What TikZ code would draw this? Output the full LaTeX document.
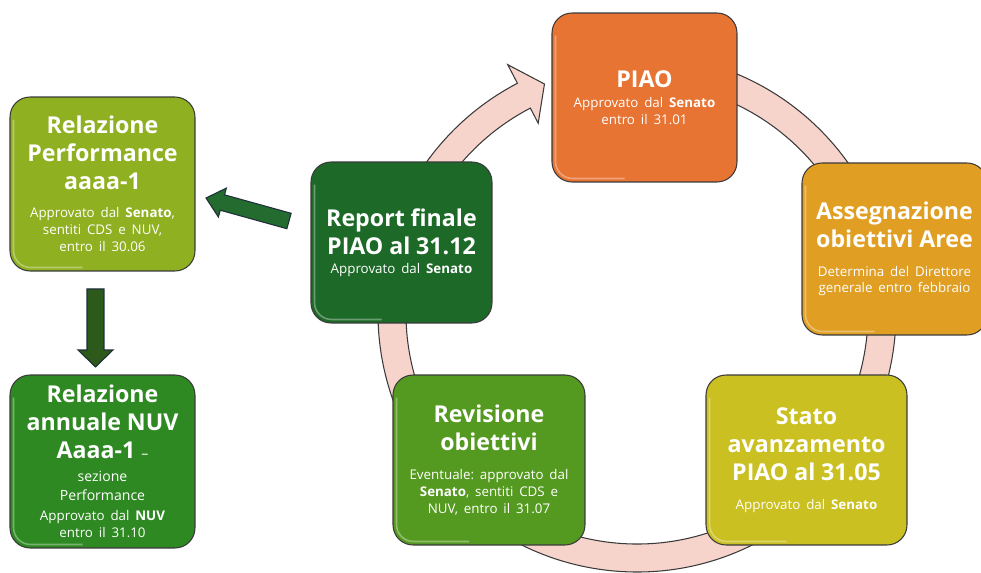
\documentclass[tikz,border=0pt]{standalone}
\usepackage{fontspec}
\setmainfont[WordSpace=0.82]{Open Sans}
\usetikzlibrary{positioning,calc}
\frenchspacing

\definecolor{edgegray}{HTML}{3A3A3A}
\definecolor{ringpink}{HTML}{F6D4CC}
\definecolor{perfgreen}{HTML}{8FB021}
\definecolor{nuvgreen}{HTML}{2E8922}
\definecolor{reportgreen}{HTML}{1D6928}
\definecolor{piaoorange}{HTML}{E87434}
\definecolor{areegold}{HTML}{E09E22}
\definecolor{statoyellow}{HTML}{CBC021}
\definecolor{revgreen}{HTML}{559A20}
\definecolor{leftarr}{HTML}{236B2E}
\definecolor{downarr}{HTML}{2D5A1B}
\definecolor{arrline}{HTML}{1E2E3A}

\newcommand\ttl{\fontsize{13.2}{15.9}\selectfont\bfseries}
\newcommand\mdl{\fontsize{8}{10.8}\selectfont\mdseries}
\newcommand\sml{\fontsize{7.6}{9.6}\selectfont\mdseries}

\begin{document}
\begin{tikzpicture}[x=0.02cm,y=0.02cm,
	stage/.style={draw=edgegray, line width=0.6pt, rounded corners=0.4cm, text=white, align=center, inner sep=0pt,
		path picture={\draw[white, opacity=0.35, line width=0.9pt, rounded corners=0.34cm]
			($(path picture bounding box.north west)+(0.07cm,-0.45cm)$) |- ($(path picture bounding box.south)+(-0.4cm,0.07cm)$);}},
	ring/.style={fill=ringpink, draw=edgegray, line width=0.6pt},
	blockarr/.style={fill=#1, draw=arrline, line width=0.6pt}]
	\useasboundingbox (0,0) rectangle (981,572);
	% ring arrow of the yearly cycle
	\coordinate (hub) at (637,259);
	\draw[ring] ($(hub)+(85:259)$) arc[start angle=85, end angle=-242.5, radius=259]
		-- ($(hub)+(-242.5:280)$) -- ($(hub)+(-248:247)$) -- ($(hub)+(-242.5:214)$)
		-- ($(hub)+(-242.5:231)$) arc[start angle=-242.5, end angle=85, radius=231] -- cycle;
	% stages
	\node[stage, fill=piaoorange, minimum width=3.7cm, minimum height=3.38cm, text width=3.7cm] (piao) at (644.5,474.5)
		{\ttl PIAO\par\vspace{1.6pt}\sml Approvato dal \textbf{Senato}\\ entro il 31.01\par};
	\node[stage, fill=areegold, minimum width=3.7cm, minimum height=3.44cm, text width=3.7cm] (aree) at (894.5,323)
		{\ttl Assegnazione\\ obiettivi Aree\par\vspace{6.7pt}\sml Determina del Direttore\\ generale entro febbraio\par};
	\node[stage, fill=statoyellow, minimum width=4.02cm, minimum height=3.4cm, text width=4.02cm] (stato) at (806.5,112)
		{\ttl Stato\\ avanzamento\\ PIAO al 31.05\par\vspace{7pt}\sml Approvato dal \textbf{Senato}\par};
	\node[stage, fill=revgreen, minimum width=3.84cm, minimum height=3.4cm, text width=3.84cm] (revis) at (489,112)
		{\ttl Revisione\\ obiettivi\par\vspace{7pt}\sml Eventuale: approvato dal\\ \textbf{Senato}, sentiti CDS e\\ NUV, entro il 31.07\par};
	\node[stage, fill=reportgreen, minimum width=3.62cm, minimum height=3.22cm, text width=3.62cm] (report) at (401.5,329.5)
		{\ttl Report finale\\ PIAO al 31.12\par\vspace{1pt}\sml Approvato dal \textbf{Senato}\par};
	% annual reports
	\node[stage, fill=perfgreen, minimum width=3.7cm, minimum height=3.48cm, text width=3.7cm] (relperf) at (102.5,388)
		{\ttl Relazione\\ Performance\\ aaaa-1\par\vspace{6.5pt}\sml Approvato dal \textbf{Senato},\\ sentiti CDS e NUV,\\ entro il 30.06\par};
	\node[stage, fill=nuvgreen, minimum width=3.7cm, minimum height=3.46cm, text width=3.7cm] (relnuv) at (102.5,110.5)
		{\ttl Relazione\\ annuale NUV\\ Aaaa-1 {\mdl --}\par\vspace{2.1pt}\mdl sezione\\ Performance\par\vspace{2pt}\sml Approvato dal \textbf{NUV}\\ entro il 31.10\par};
	% block arrows
	\coordinate (lt) at (289,351);
	\coordinate (lh) at (206,374);
	\coordinate (lb) at ($(lh)!0.34cm!(lt)$);
	\draw[blockarr=leftarr] ($(lt)!0.16cm!90:(lh)$) -- ($(lb)!0.16cm!90:(lh)$) -- ($(lb)!0.3cm!90:(lh)$)
		-- (lh) -- ($(lb)!0.3cm!-90:(lh)$) -- ($(lb)!0.16cm!-90:(lh)$) -- ($(lt)!0.16cm!-90:(lh)$) -- cycle;
	\coordinate (dt) at (95.5,283);
	\coordinate (dh) at (95.5,205);
	\coordinate (db) at ($(dh)!0.34cm!(dt)$);
	\draw[blockarr=downarr] ($(dt)!0.17cm!90:(dh)$) -- ($(db)!0.17cm!90:(dh)$) -- ($(db)!0.35cm!90:(dh)$)
		-- (dh) -- ($(db)!0.35cm!-90:(dh)$) -- ($(db)!0.17cm!-90:(dh)$) -- ($(dt)!0.17cm!-90:(dh)$) -- cycle;
\end{tikzpicture}
\end{document}
